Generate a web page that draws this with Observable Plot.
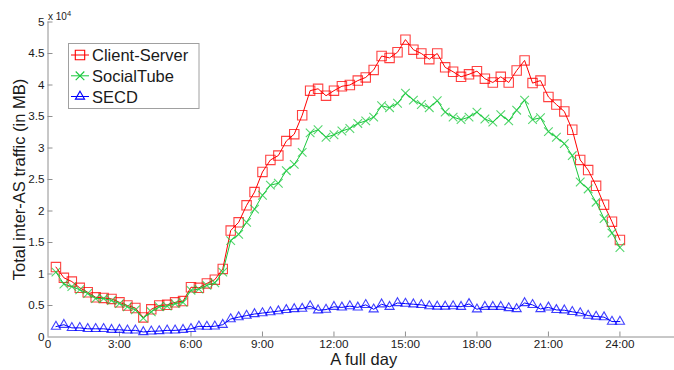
<!DOCTYPE html>
<html><head><meta charset="utf-8">
<script src="https://cdn.jsdelivr.net/npm/d3@7"></script>
<script src="https://cdn.jsdelivr.net/npm/@observablehq/plot@0.6"></script>
<style>
html,body{margin:0;padding:0;background:#fff;}
#chart{position:relative;width:674px;height:370px;overflow:hidden;}
svg{font-family:"Liberation Sans",Arial,sans-serif;}
</style></head><body><div id="chart"></div>
<script>
// time of each sample, in minutes after midnight (20-minute steps)
const minutes = [20,40,60,80,100,120,140,160,180,200,220,240,260,280,300,320,340,360,380,400,420,440,460,480,
  500,520,540,560,580,600,620,640,660,680,700,720,740,760,780,800,820,840,860,880,900,920,940,960,980,1000,
  1020,1040,1060,1080,1100,1120,1140,1160,1180,1200,1220,1240,1260,1280,1300,1320,1340,1360,1380,1400,1420,1440];

const clientServer = [11100,9400,8800,7800,7100,6300,6200,6050,5500,5000,4600,3100,4400,5000,5100,5500,5700,7900,
  7800,8500,9100,10800,16900,18200,20900,23000,26200,28100,28800,31100,32200,35200,39100,39400,38300,39100,
  39800,40000,40700,41200,42400,44600,44300,45200,47200,45600,45000,44100,45000,42800,42100,41300,41700,42200,
  41000,40400,41300,40400,42300,43900,40300,40700,38100,36900,35800,32900,28100,26500,24000,21000,18300,15400];

const socialTube = [10300,8400,8000,7500,6900,6100,6100,5800,5300,4800,4300,3000,4000,4800,4900,5300,5500,7400,
  7600,8200,8600,10300,15300,16300,18200,20300,22500,24100,24400,26400,27400,29300,32400,32900,31700,32100,
  32700,33100,33900,34300,34900,36700,36400,37100,38700,37600,36900,36400,37500,35700,34900,34500,34900,35700,
  34600,34100,35300,34300,36000,37600,34500,34800,32600,31700,30700,28800,24600,23500,21400,18800,16500,14200];

const secd = [1650,1950,1450,1450,1300,1300,1300,1150,1150,1050,1050,800,900,950,1050,1050,1150,1300,
  1700,1650,1700,1950,2850,3150,3400,3650,3800,3950,4100,4300,4450,4500,4900,4250,4350,4800,
  4700,4900,4700,5100,4400,5200,4800,5400,5300,5200,5100,4900,4850,4850,4900,4800,5250,4400,
  4800,4800,4800,4600,4450,5400,5100,4450,4700,4300,4250,4000,3800,3400,3250,3150,2450,2450];

const seriesNames = ["Client-Server", "SocialTube", "SECD"];
const seriesColors = ["#ff0000", "#19c83c", "#0000ff"];
const seriesSymbols = ["square", "times", "triangle"];
const seriesR = [5.3, 4, 3.4];

const xTicks = [0, 3, 6, 9, 12, 15, 18, 21, 24];
const xTickLabels = ["0", "3:00", "6:00", "9:00", "12:00", "15:00", "18:00", "21:00", "24:00"];
const yTicks = [0, 5000, 10000, 15000, 20000, 25000, 30000, 35000, 40000, 45000, 50000];
const yTickLabels = ["0", "0.5", "1", "1.5", "2", "2.5", "3", "3.5", "4", "4.5", "5"];

const xLabel = "A full day";
const yLabel = "Total inter-AS traffic (in MB)";

const seriesValues = [clientServer, socialTube, secd];
const rows = seriesValues.map((vals, s) => vals.map((v, i) => ({series: seriesNames[s], hour: minutes[i] / 60, value: v})));

const W = 674, H = 370, mL = 47.5, mR = -5, mT = 21.5, mB = 33.5;
const frameW = W - mR - mL, frameH = H - mT - mB;
const axisColor = "#909090";
const textColor = "#1a1a1a";

const marks = [
  Plot.ruleY([0], {stroke: axisColor}),
  Plot.ruleX([0], {stroke: axisColor}),
  Plot.tickX(xTicks.slice(1), {x: d => d, insetTop: frameH - 5, stroke: axisColor}),
  Plot.tickY(yTicks.slice(1), {y: d => d, insetRight: frameW - 5, stroke: axisColor}),
  Plot.axisX(xTicks, {tickSize: 0, tickPadding: 2.5, tickFormat: (d, i) => xTickLabels[i], fontSize: 11.7, fill: textColor, label: null}),
  Plot.axisY(yTicks, {tickSize: 0, tickPadding: 3.5, tickFormat: (d, i) => yTickLabels[i], fontSize: 11.7, fill: textColor, label: null}),
  Plot.text([xLabel], {frameAnchor: "bottom", lineAnchor: "middle", textAnchor: "middle", dy: 23, fontSize: 16.5, fill: textColor}),
  Plot.text([yLabel], {frameAnchor: "left", lineAnchor: "middle", textAnchor: "middle", dx: -28, rotate: -90, fontSize: 16.5, fill: textColor})
];
rows.forEach((r, s) => {
  marks.push(Plot.line(r, {x: "hour", y: "value", stroke: seriesColors[s], strokeWidth: 1}));
  marks.push(Plot.dot(r, {x: "hour", y: "value", symbol: seriesSymbols[s], r: seriesR[s], stroke: seriesColors[s], strokeWidth: 1.1, strokeOpacity: 0.75, fill: "none"}));
});

const chart = Plot.plot({
  width: W, height: H,
  marginLeft: mL, marginRight: mR, marginTop: mT, marginBottom: mB,
  style: {fontFamily: '"Liberation Sans", Arial, sans-serif', background: "#fff", overflow: "visible"},
  x: {domain: [0, 26.5], axis: null},
  y: {domain: [0, 50000], axis: null},
  marks
});
document.getElementById("chart").appendChild(chart);

// exponent label and legend
const svg = d3.select(chart);
const expo = svg.append("text").attr("x", 48).attr("y", 20).attr("text-anchor", "start")
  .attr("fill", textColor).attr("font-size", 10).text("x 10");
expo.append("tspan").attr("dy", -4).attr("font-size", 7.5).text("4");

const lg = svg.append("g").attr("text-anchor", "start");
lg.append("rect").attr("x", 68.5).attr("y", 43.5).attr("width", 130.5).attr("height", 65)
  .attr("fill", "#fff").attr("stroke", "#a0a0a0");
const symMap = {square: d3.symbolSquare, times: d3.symbolTimes, triangle: d3.symbolTriangle};
const rowY = [55, 75.8, 96.5];
seriesNames.forEach((name, s) => {
  const y = rowY[s];
  lg.append("line").attr("x1", 71).attr("x2", 89).attr("y1", y).attr("y2", y).attr("stroke", seriesColors[s]);
  lg.append("path").attr("d", d3.symbol(symMap[seriesSymbols[s]], Math.PI * seriesR[s] * seriesR[s])())
    .attr("transform", `translate(80,${y})`).attr("fill", "none").attr("stroke", seriesColors[s]).attr("stroke-width", 1.1);
  lg.append("text").attr("x", 92).attr("y", y + 6).attr("text-anchor", "start")
    .attr("font-size", 16.5).attr("fill", textColor).text(name);
});
</script></body></html>
